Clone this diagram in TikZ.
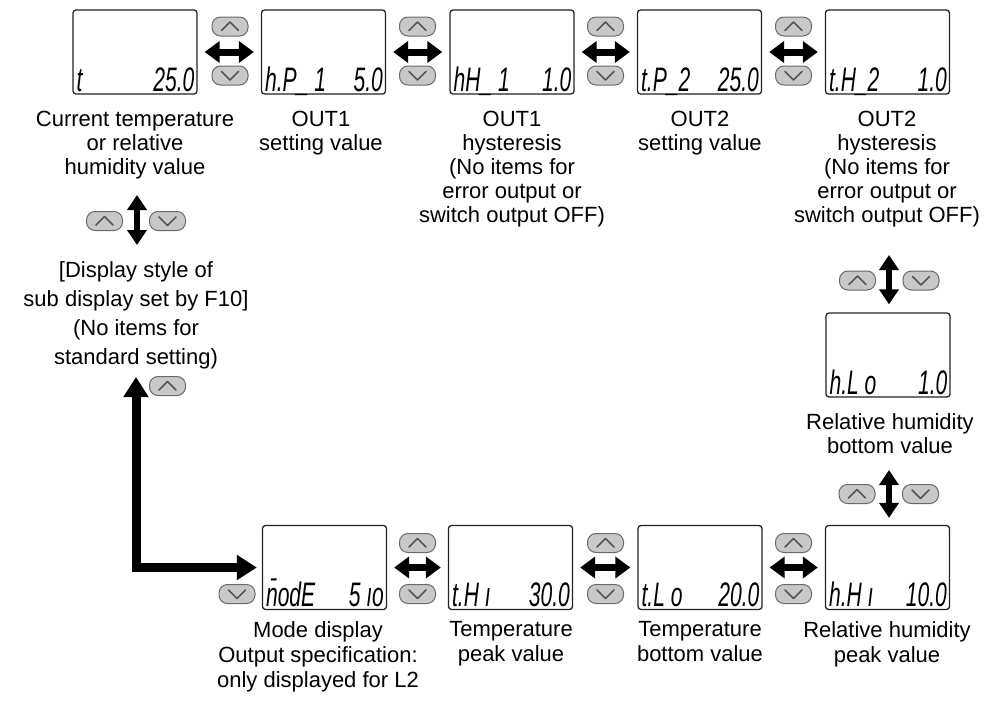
\documentclass[tikz,border=0pt]{standalone}
\usepackage{fontspec}
\setmainfont{Liberation Sans}
\newfontfamily\lcdfont{Liberation Sans}
\usetikzlibrary{arrows.meta,calc}
\definecolor{btnfill}{HTML}{C8C8C8}
\definecolor{btnedge}{HTML}{6A6A6A}
\definecolor{chevc}{HTML}{555555}
\definecolor{dispedge}{HTML}{222222}
\tikzset{
  disp/.style={draw=dispedge, line width=1.3pt, rounded corners=3pt, minimum width=124pt, minimum height=84pt, inner sep=0pt},
  lbl/.style={align=center, anchor=north, inner sep=0pt, font=\fontsize{22}{24}\selectfont},
  lcdl/.style={inner sep=0pt, anchor=base west, font=\lcdfont\itshape\fontsize{34}{34}\selectfont},
  lcdr/.style={inner sep=0pt, anchor=base east, font=\lcdfont\itshape\fontsize{34}{34}\selectfont},
  btn/.style={draw=btnedge, fill=btnfill, line width=1pt, rounded corners=8.5pt, minimum width=36pt, minimum height=19pt, inner sep=0pt},
  chev/.style={draw=chevc, line width=1.5pt, line cap=round, line join=round},
  pics/upbtn/.style={code={\node[btn] (-b) {}; \draw[chev] (-8.5,4) -- (0,-4.5) -- (8.5,4);}},
  pics/dnbtn/.style={code={\node[btn] (-b) {}; \draw[chev] (-8.5,-4) -- (0,4.5) -- (8.5,-4);}},
  harrow/.style={line width=7pt, {Triangle[width=21pt,length=15pt]}-{Triangle[width=21pt,length=15pt]}, shorten <=7pt, shorten >=7pt},
  varrow/.style={line width=6pt, {Triangle[width=19pt,length=15pt]}-{Triangle[width=19pt,length=15pt]}},
  larrow/.style={line width=9pt, line join=miter, {Triangle[width=24pt,length=20pt]}-{Triangle[width=24pt,length=20pt]}},
}
\newcommand{\lcdtext}[3]{%
  \node[lcdl] (#1-l) at ($(#1.south west)+(4,-3.5)$) {\scalebox{0.62}[1]{#2}};
  \node[lcdr] (#1-r) at ($(#1.south east)+(-3,-3.5)$) {\scalebox{0.62}[1]{#3}};}
\begin{document}
\begin{tikzpicture}[x=1pt,y=-1pt]
\useasboundingbox (0,0) rectangle (997,704);
% top row displays
\node[disp] (d1) at (135,52) {};
\node[disp] (d2) at (323.5,52) {};
\node[disp] (d3) at (512,52) {};
\node[disp] (d4) at (699.5,52) {};
\node[disp] (d5) at (887.5,52) {};
% right column
\node[disp] (hlo) at (888,355) {};
% bottom row
\node[disp] (mode) at (324.5,567.5) {};
\node[disp] (thi) at (510.5,567.5) {};
\node[disp] (tlo) at (700,567.5) {};
\node[disp] (hhi) at (887.5,567.5) {};
% display texts
\lcdtext{d1}{t}{25.0}
\lcdtext{d2}{h.P\_ 1}{5.0}
\lcdtext{d3}{hH\_ 1}{1.0}
\lcdtext{d4}{t.P\_2}{25.0}
\lcdtext{d5}{t.H\_2}{1.0}
\lcdtext{hlo}{h.L o}{1.0}
\lcdtext{mode}{\=nodE}{5 ıo}
\lcdtext{thi}{t.H ı}{30.0}
\lcdtext{tlo}{t.L o}{20.0}
\lcdtext{hhi}{h.H ı}{10.0}
% top row buttons
\pic (u1) at (230,26.5) {upbtn};
\pic (n1) at (230,75.5) {dnbtn};
\pic (u2) at (417.5,26.5) {upbtn};
\pic (n2) at (417.5,75.5) {dnbtn};
\pic (u3) at (605.5,26.5) {upbtn};
\pic (n3) at (605.5,75.5) {dnbtn};
\pic (u4) at (793.5,26.5) {upbtn};
\pic (n4) at (793.5,75.5) {dnbtn};
% bottom row buttons
\pic (u5) at (417.5,543) {upbtn};
\pic (n5) at (417.5,594) {dnbtn};
\pic (u6) at (605.5,543) {upbtn};
\pic (n6) at (605.5,594) {dnbtn};
\pic (u7) at (793.5,543) {upbtn};
\pic (n7) at (793.5,594) {dnbtn};
\pic (n8) at (237,594) {dnbtn};
% left column buttons
\pic (u9) at (104.5,221) {upbtn};
\pic (n9) at (167.5,221) {dnbtn};
\pic (u10) at (167.5,386) {upbtn};
% right column buttons
\pic (u11) at (857.5,280.5) {upbtn};
\pic (n11) at (921,280.5) {dnbtn};
\pic (u12) at (857,494) {upbtn};
\pic (n12) at (920.5,494) {dnbtn};
% horizontal arrows
\draw[harrow] (d1.east) -- (d2.west);
\draw[harrow] (d2.east) -- (d3.west);
\draw[harrow] (d3.east) -- (d4.west);
\draw[harrow] (d4.east) -- (d5.west);
\draw[harrow] (mode.east) -- (thi.west);
\draw[harrow] (thi.east) -- (tlo.west);
\draw[harrow] (tlo.east) -- (hhi.west);
% vertical arrows
\coordinate (l1) at (137,195);
\coordinate (l2) at (137,245);
\draw[varrow] (l1) -- (l2);
\coordinate (r1) at (889,255);
\draw[varrow, shorten >=8pt] (r1) -- (r1 |- hlo.north);
\coordinate (r2) at (889,470);
\draw[varrow, shorten >=7pt] (r2) -- (r2 |- hhi.north);
% L arrow
\coordinate (ltop) at (136,377);
\draw[larrow, shorten >=5pt] (ltop) |- (mode.west);
% labels
\node[lbl] (t1) at (135,111) {Current temperature\\or relative\\humidity value};
\node[lbl] (t2) at (321,111) {OUT1\\setting value};
\node[lbl] (t3) at (512,111) {OUT1\\hysteresis\\(No items for\\error output or\\switch output OFF)};
\node[lbl] (t4) at (700,111) {OUT2\\setting value};
\node[lbl] (t5) at (887,111) {OUT2\\hysteresis\\(No items for\\error output or\\switch output OFF)};
\node[lbl, font=\fontsize{22}{29}\selectfont] (lsub) at (136,261) {[Display style of\\sub display set by F10]\\(No items for\\standard setting)};
\node[lbl] (rlo) at (890,413) {Relative humidity\\bottom value};
\node[lbl, font=\fontsize{22}{25}\selectfont] (b1) at (318,621) {Mode display\\Output specification:\\only displayed for L2};
\node[lbl, font=\fontsize{22}{25}\selectfont] (b2) at (511,621) {Temperature\\peak value};
\node[lbl, font=\fontsize{22}{25}\selectfont] (b3) at (700,621) {Temperature\\bottom value};
\node[lbl, font=\fontsize{22}{25}\selectfont] (b4) at (887,621) {Relative humidity\\peak value};
\end{tikzpicture}
\end{document}
